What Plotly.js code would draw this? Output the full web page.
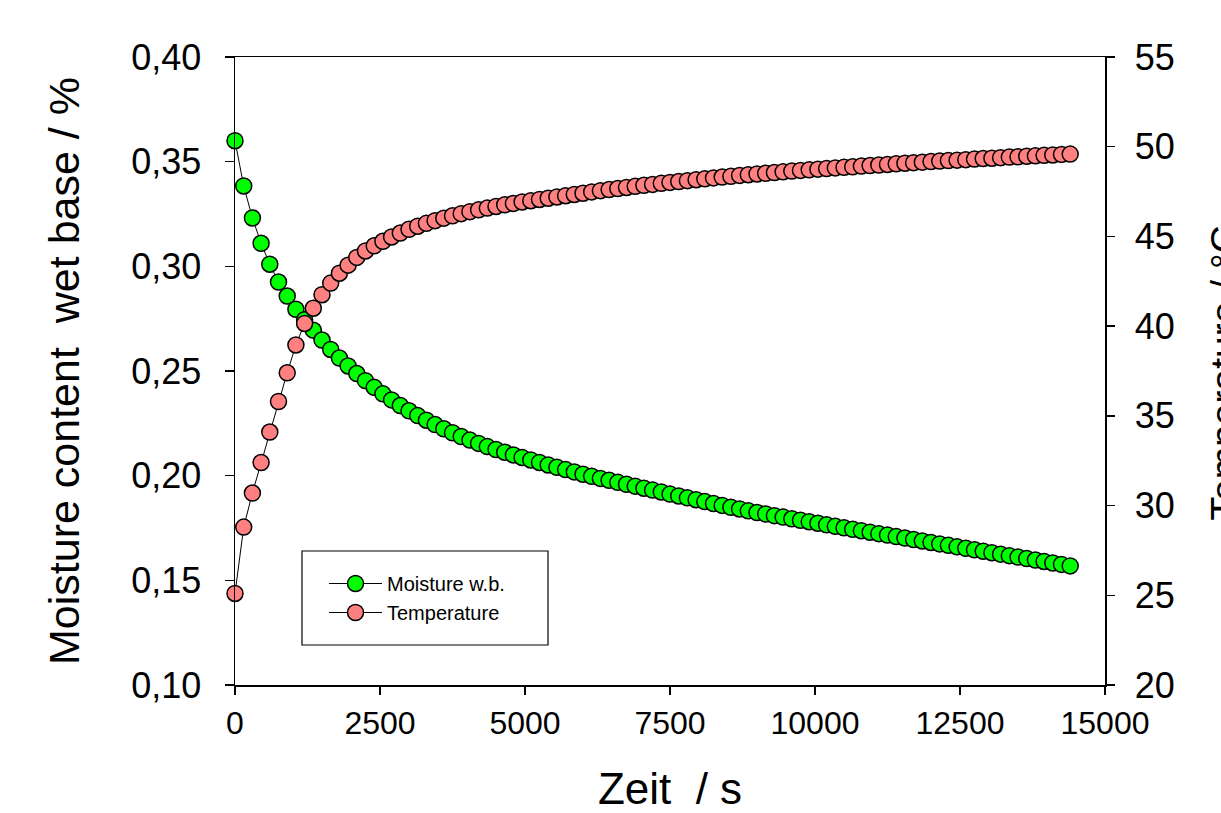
<!DOCTYPE html>
<html>
<head>
<meta charset="utf-8">
<script src="https://cdn.plot.ly/plotly-3.0.1.min.js"></script>
<style>html,body{margin:0;padding:0;background:#fff;}</style>
</head>
<body>
<div id="chart" style="width:1221px;height:813px;"></div>
<script>
// time in seconds
const timeS = [
  0,150,300,450,600,750,900,1050,1200,1350,
  1500,1650,1800,1950,2100,2250,2400,2550,2700,2850,
  3000,3150,3300,3450,3600,3750,3900,4050,4200,4350,
  4500,4650,4800,4950,5100,5250,5400,5550,5700,5850,
  6000,6150,6300,6450,6600,6750,6900,7050,7200,7350,
  7500,7650,7800,7950,8100,8250,8400,8550,8700,8850,
  9000,9150,9300,9450,9600,9750,9900,10050,10200,10350,
  10500,10650,10800,10950,11100,11250,11400,11550,11700,11850,
  12000,12150,12300,12450,12600,12750,12900,13050,13200,13350,
  13500,13650,13800,13950,14100,14250,14400
];
// moisture content, wet base
const moistureWB = [
  0.3600,0.3384,0.3231,0.3110,0.3010,0.2925,0.2858,0.2795,0.2745,0.2695,
  0.2648,0.2603,0.2562,0.2524,0.2488,0.2454,0.2422,0.2391,0.2362,0.2335,
  0.2310,0.2287,0.2265,0.2244,0.2224,0.2205,0.2187,0.2170,0.2154,0.2139,
  0.2125,0.2112,0.2099,0.2087,0.2075,0.2063,0.2051,0.2040,0.2029,0.2018,
  0.2007,0.1997,0.1987,0.1978,0.1968,0.1959,0.1950,0.1940,0.1931,0.1922,
  0.1912,0.1903,0.1894,0.1885,0.1876,0.1867,0.1858,0.1849,0.1841,0.1832,
  0.1824,0.1817,0.1809,0.1802,0.1794,0.1787,0.1780,0.1773,0.1765,0.1758,
  0.1751,0.1744,0.1737,0.1730,0.1723,0.1716,0.1709,0.1702,0.1695,0.1688,
  0.1681,0.1674,0.1667,0.1660,0.1653,0.1646,0.1639,0.1632,0.1625,0.1618,
  0.1611,0.1604,0.1597,0.1590,0.1583,0.1576,0.1569
];
// temperature in °C
const temperatureC = [
  25.10,28.80,30.70,32.40,34.10,35.80,37.40,38.95,40.15,41.00,
  41.75,42.40,42.95,43.40,43.83,44.19,44.48,44.73,44.97,45.19,
  45.40,45.57,45.73,45.88,46.02,46.15,46.27,46.38,46.48,46.58,
  46.67,46.76,46.84,46.92,46.99,47.06,47.13,47.20,47.27,47.34,
  47.41,47.48,47.55,47.61,47.67,47.73,47.79,47.85,47.90,47.96,
  48.01,48.06,48.11,48.16,48.21,48.26,48.31,48.35,48.40,48.44,
  48.48,48.52,48.56,48.60,48.64,48.68,48.71,48.75,48.78,48.82,
  48.85,48.88,48.92,48.95,48.98,49.01,49.05,49.08,49.11,49.14,
  49.17,49.20,49.23,49.25,49.28,49.31,49.34,49.36,49.39,49.42,
  49.44,49.47,49.49,49.52,49.54,49.57,49.59
];
const seriesNames = ['Moisture w.b.', 'Temperature'];
const xTitle = 'Zeit\u00A0 / s';
const yTitle = 'Moisture content\u00A0 wet base / %';
const y2Title = 'Temperature / °C';

const FONT = 'Liberation Sans, Arial, Helvetica, sans-serif';
const NARROW = 'Liberation Sans Narrow, Arial Narrow, Liberation Sans, Arial, sans-serif';

const traces = [
  {
    x: timeS, y: moistureWB, name: seriesNames[0], type: 'scatter', mode: 'lines+markers',
    yaxis: 'y', cliponaxis: false,
    line: {color: '#000000', width: 1},
    marker: {size: 16, color: '#00ff00', line: {color: '#000000', width: 1.5}}
  },
  {
    x: timeS, y: temperatureC, name: seriesNames[1], type: 'scatter', mode: 'lines+markers',
    yaxis: 'y2', cliponaxis: false,
    line: {color: '#000000', width: 1},
    marker: {size: 16, color: '#ff8080', line: {color: '#000000', width: 1.5}}
  }
];

const axisCommon = {
  showline: true, linecolor: '#000000', linewidth: 1.5,
  ticks: 'outside', tickcolor: '#000000', tickwidth: 1.5,
  showgrid: false, zeroline: false
};

const layout = {
  width: 1221, height: 813,
  margin: {l: 235, r: 116, t: 57, b: 128, pad: 0},
  paper_bgcolor: '#ffffff', plot_bgcolor: '#ffffff',
  separators: ', ',
  font: {family: FONT, color: '#000000'},
  showlegend: true,
  xaxis: Object.assign({}, axisCommon, {
    range: [0, 15000], tick0: 0, dtick: 2500, tickformat: 'd', mirror: true,
    ticklen: 8, ticklabelstandoff: 1,
    tickfont: {family: NARROW, size: 32, color: '#000000'},
    title: {text: xTitle, font: {family: FONT, size: 44, color: '#000000'}, standoff: 36}
  }),
  yaxis: Object.assign({}, axisCommon, {
    range: [0.10, 0.40], tick0: 0.10, dtick: 0.05, tickformat: '.2f',
    ticklen: 9, ticklabelstandoff: 16,
    tickfont: {family: FONT, size: 36, color: '#000000'},
    title: {text: yTitle, font: {family: FONT, size: 43, color: '#000000'}, standoff: 38}
  }),
  yaxis2: Object.assign({}, axisCommon, {
    overlaying: 'y', side: 'right',
    range: [20, 55], tick0: 20, dtick: 5, tickformat: 'd',
    ticklen: 8, ticklabelstandoff: 13,
    tickfont: {family: FONT, size: 36, color: '#000000'}
  }),
  legend: {
    x: (324 - 235) / 870, y: (685 - 598) / 628, xanchor: 'left', yanchor: 'middle',
    bgcolor: 'rgba(0,0,0,0)', borderwidth: 0, itemwidth: 53,
    font: {family: FONT, size: 20, color: '#000000'}
  },
  shapes: [{
    type: 'rect', xref: 'paper', yref: 'paper',
    x0: (302 - 235) / 870, x1: (548 - 235) / 870,
    y0: (685 - 645) / 628, y1: (685 - 551) / 628,
    line: {color: '#000000', width: 1.2}, fillcolor: 'rgba(0,0,0,0)'
  }],
  annotations: [{
    text: y2Title, xref: 'paper', yref: 'paper',
    x: (1200 - 235) / 870, y: (685 - 373) / 628,
    xanchor: 'left', yanchor: 'middle', textangle: -90, showarrow: false,
    font: {family: FONT, size: 39, color: '#000000'}
  }]
};

Plotly.newPlot('chart', traces, layout, {displayModeBar: false, staticPlot: true});
</script>
</body>
</html>
